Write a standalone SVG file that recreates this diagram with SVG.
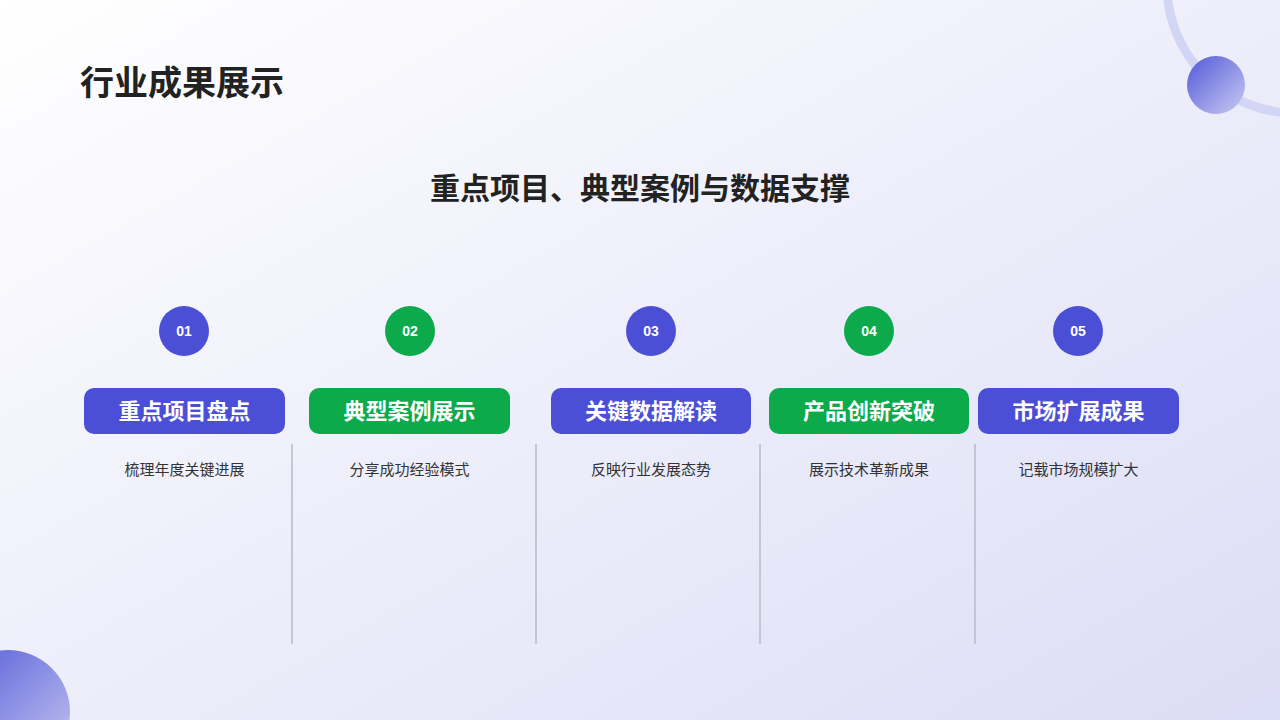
<svg xmlns="http://www.w3.org/2000/svg" width="1280" height="720" viewBox="0 0 1280 720">
<defs>
<linearGradient id="bg" x1="0" y1="0" x2="1" y2="1"><stop offset="0" stop-color="#FFFFFF"/><stop offset="1" stop-color="#DCDDF6"/></linearGradient>
<linearGradient id="ball" x1="0" y1="0" x2="1" y2="1"><stop offset="0" stop-color="#5258D8"/><stop offset="1" stop-color="#C9CBF2"/></linearGradient>
<style>
.t{font-family:"Noto Sans CJK SC","Liberation Sans",sans-serif}
.pill{font-size:22px;font-weight:700;fill:#fff;text-anchor:middle}
.num{font-family:"Liberation Sans",sans-serif;font-size:14px;font-weight:700;fill:#fff;text-anchor:middle}
.desc{font-size:15px;fill:#333;text-anchor:middle}
.p{fill:#4B4FD6}.g{fill:#0CAA4B}
.div{stroke:#B8BAC8;stroke-width:1.5}
</style>
</defs>
<rect width="1280" height="720" fill="url(#bg)"/>
<circle cx="1295" cy="-15" r="128" fill="none" stroke="#D3D5F5" stroke-width="9"/>
<circle cx="1216" cy="85" r="29" fill="url(#ball)"/>
<circle cx="8" cy="712" r="62" fill="url(#ball)"/>
<text class="t" x="80" y="95" font-size="34" font-weight="700" fill="#222">行业成果展示</text>
<text class="t" x="640" y="199" font-size="30" font-weight="700" fill="#222" text-anchor="middle">重点项目、典型案例与数据支撑</text>
<g id="connectors">
<line class="div" x1="292" y1="444" x2="292" y2="644"/>
<line class="div" x1="536" y1="444" x2="536" y2="644"/>
<line class="div" x1="760" y1="444" x2="760" y2="644"/>
<line class="div" x1="975" y1="444" x2="975" y2="644"/>
</g>
<g id="n1"><circle class="p" cx="184" cy="331" r="25"/><text class="num" x="184" y="336">01</text><rect class="p" x="84" y="388" width="201" height="46" rx="10"/><text class="t pill" x="184.5" y="419">重点项目盘点</text><text class="t desc" x="184.5" y="475">梳理年度关键进展</text></g>
<g id="n2"><circle class="g" cx="410" cy="331" r="25"/><text class="num" x="410" y="336">02</text><rect class="g" x="309" y="388" width="201" height="46" rx="10"/><text class="t pill" x="409.5" y="419">典型案例展示</text><text class="t desc" x="409.5" y="475">分享成功经验模式</text></g>
<g id="n3"><circle class="p" cx="651" cy="331" r="25"/><text class="num" x="651" y="336">03</text><rect class="p" x="551" y="388" width="200" height="46" rx="10"/><text class="t pill" x="651" y="419">关键数据解读</text><text class="t desc" x="651" y="475">反映行业发展态势</text></g>
<g id="n4"><circle class="g" cx="869" cy="331" r="25"/><text class="num" x="869" y="336">04</text><rect class="g" x="769" y="388" width="200" height="46" rx="10"/><text class="t pill" x="869" y="419">产品创新突破</text><text class="t desc" x="869" y="475">展示技术革新成果</text></g>
<g id="n5"><circle class="p" cx="1078" cy="331" r="25"/><text class="num" x="1078" y="336">05</text><rect class="p" x="978" y="388" width="201" height="46" rx="10"/><text class="t pill" x="1078.5" y="419">市场扩展成果</text><text class="t desc" x="1078.5" y="475">记载市场规模扩大</text></g>
</svg>
